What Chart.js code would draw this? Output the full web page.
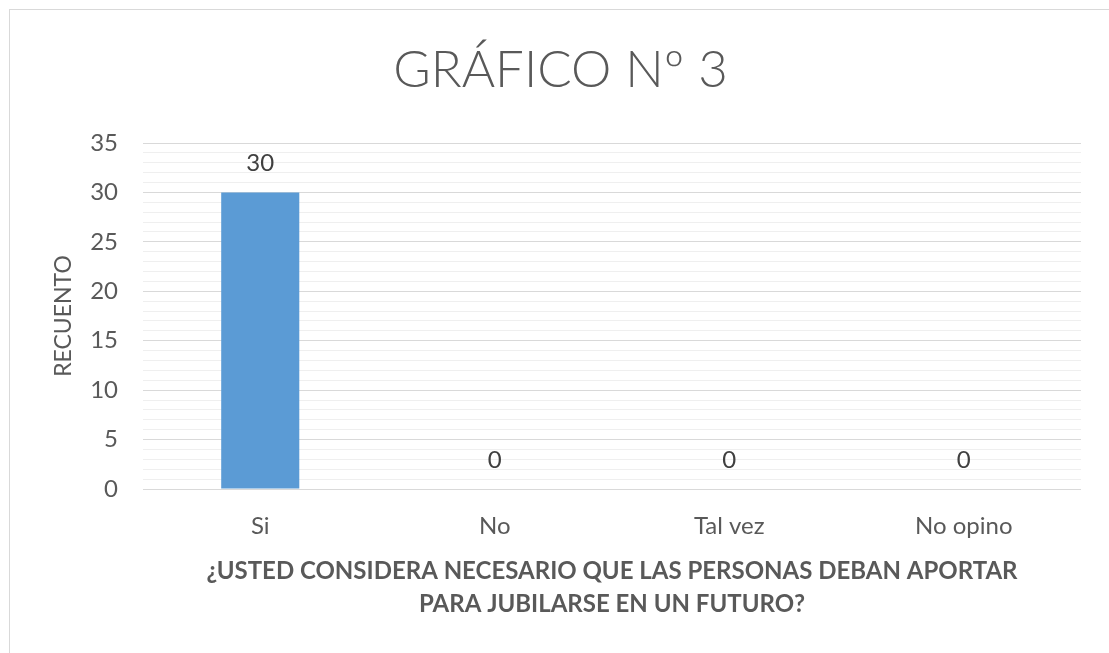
<!DOCTYPE html>
<html>
<head>
<meta charset="utf-8">
<script src="https://cdn.jsdelivr.net/npm/chart.js@4.4.1/dist/chart.umd.min.js"></script>
<style>
  html, body { margin: 0; padding: 0; background: #fff; overflow: hidden; }
  #frame { position: absolute; left: 9px; top: 9px; width: 1200px; height: 700px;
           border-left: 1px solid #d9d9d9; border-top: 1px solid #d9d9d9; }
  #myChart { position: absolute; left: 0; top: 0; }
</style>
</head>
<body>
<div id="frame"></div>
<canvas id="myChart" width="1109" height="653"></canvas>
<script>
// chart data
const categories = ['Si', 'No', 'Tal vez', 'No opino'];
const counts = [30, 0, 0, 0];
const yMin = 0;
const yMax = 35;
const chartTitle = 'GRÁFICO Nº 3';
const yTitle = 'RECUENTO';
const xTitle = ['¿USTED CONSIDERA NECESARIO QUE LAS PERSONAS DEBAN APORTAR', 'PARA JUBILARSE EN UN FUTURO?'];

const fontName = 'Lato, "Open Sans", sans-serif';

// draws the value above each bar
const valueLabels = {
    id: 'valueLabels',
    afterDatasetsDraw(chart) {
        const ctx = chart.ctx;
        ctx.save();
        ctx.font = '24px ' + fontName;
        ctx.fillStyle = '#404040';
        ctx.textAlign = 'center';
        ctx.textBaseline = 'middle';
        chart.getDatasetMeta(0).data.forEach(function(bar, i) {
            ctx.fillText(String(counts[i]), bar.x, bar.y - 29);
        });
        ctx.restore();
    }
};

const ctx = document.getElementById('myChart').getContext('2d');
const myChart = new Chart(ctx, {
    type: 'bar',
    data: {
        labels: categories,
        datasets: [{
            label: yTitle,
            data: counts,
            backgroundColor: '#5b9bd5',
            categoryPercentage: 0.333,
            barPercentage: 1
        }]
    },
    options: {
        responsive: false,
        animation: false,
        layout: { padding: { left: 40, right: 28, top: 0, bottom: 0 } },
        plugins: {
            legend: { display: false },
            tooltip: { enabled: false },
            title: {
                display: true,
                text: chartTitle,
                color: '#595959',
                font: { family: fontName, size: 51, weight: '300', lineHeight: 1.2 },
                padding: { top: 40, bottom: 41.8 }
            }
        },
        scales: {
            x: {
                grid: { display: false },
                border: { display: false },
                ticks: {
                    color: '#595959',
                    padding: 14.5,
                    font: { family: fontName, size: 24, lineHeight: 1.2 }
                },
                title: {
                    display: true,
                    text: xTitle,
                    color: '#595959',
                    font: { family: fontName, size: 24, weight: 'bold', lineHeight: 33 / 24 },
                    padding: { top: 0, bottom: 32 }
                },
                afterFit(scale) { scale.height = 164; }
            },
            y: {
                min: yMin,
                max: yMax,
                border: { display: false },
                grid: {
                    drawTicks: false,
                    color: function(c) {
                        return c.tick && c.tick.value % 5 === 0 ? '#d9d9d9' : '#efefef';
                    }
                },
                ticks: {
                    stepSize: 1,
                    autoSkip: false,
                    color: '#595959',
                    padding: 25,
                    font: { family: fontName, size: 24 },
                    callback: function(v) { return v % 5 === 0 ? v : ''; }
                },
                title: {
                    display: true,
                    text: yTitle,
                    color: '#595959',
                    font: { family: fontName, size: 23, lineHeight: 1.2 },
                    padding: { top: 10, bottom: 0 }
                },
                afterFit(scale) { scale.width = 103; }
            }
        }
    },
    plugins: [valueLabels]
});
</script>
</body>
</html>
